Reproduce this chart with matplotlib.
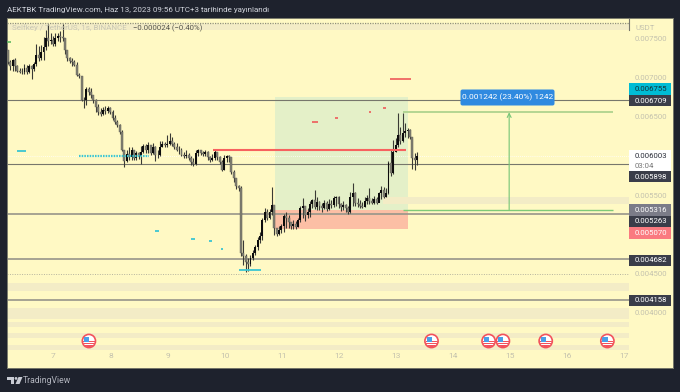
import numpy as np
import matplotlib
matplotlib.use("Agg")
import matplotlib.pyplot as plt
import matplotlib.patches as patches

plt.rcParams["font.family"] = ["Roboto", "DejaVu Sans"]

# ── Candles: 1h KEY/USDT, prices in millionths ──────────────────────────────
first_day = 6.2
closes = [
    7200, 7149, 7225, 7149, 7085, 7072, 7072, 7123, 7072, 7149,
    7111, 7174, 7289, 7251, 7327, 7391, 7506, 7468, 7481, 7430,
    7506, 7532, 7519, 7506, 7353, 7251, 7213, 7200, 7162, 7034,
    7021, 6715, 6715, 6855, 6817, 6779, 6715, 6626, 6562, 6536,
    6587, 6575, 6613, 6562, 6485, 6434, 6396, 6307, 6077, 5937,
    6026, 5988, 6077, 5975, 6039, 6000, 6051, 6128, 6077, 6141,
    6039, 6115, 6013, 6013, 6115, 6154, 6141, 6154, 6192, 6154,
    6115, 6077, 6077, 6013, 6000, 6013, 5975, 5924, 5898, 6039,
    6077, 6039, 6026, 6051, 5988, 5949, 5975, 6051, 5988, 5924,
    5822, 5975, 6000, 5988, 5796, 5720, 5618, 5592, 4763, 4724,
    4648, 4622, 4699, 4763, 4839, 4929, 4980, 5184, 5286, 5209,
    5286, 5375, 5082, 5005, 5056, 5107, 5235, 5209, 5158, 5107,
    5133, 5094, 5184, 5337, 5362, 5248, 5286, 5388, 5439, 5350,
    5414, 5362, 5337, 5401, 5324, 5388, 5375, 5465, 5477, 5388,
    5350, 5375, 5337, 5286, 5477, 5528, 5401, 5388, 5362, 5350,
    5426, 5465, 5426, 5401, 5452, 5401, 5528, 5567, 5477, 5528,
    5911, 5784, 6051, 6141, 6268, 6192, 6294, 6319, 6332, 6243, 5975, 5949, 6000,
]
highs = [
    7353, 7225, 7238, 7251, 7162, 7123, 7123, 7174, 7162, 7174,
    7162, 7200, 7430, 7404, 7417, 7519, 7608, 7685, 7570, 7532,
    7570, 7570, 7595, 7685, 7506, 7353, 7264, 7251, 7225, 7200,
    7060, 7021, 6753, 6881, 6881, 6868, 6753, 6728, 6664, 6613,
    6626, 6638, 6638, 6626, 6587, 6524, 6460, 6409, 6332, 6077,
    6077, 6115, 6115, 6064, 6064, 6051, 6128, 6154, 6154, 6179,
    6141, 6166, 6128, 6077, 6192, 6192, 6179, 6268, 6294, 6243,
    6179, 6166, 6128, 6103, 6051, 6077, 6039, 6000, 5975, 6077,
    6090, 6077, 6064, 6077, 6064, 6000, 6026, 6077, 6051, 6000,
    5949, 6013, 6013, 6013, 5988, 5822, 5720, 5630, 5618, 4929,
    4750, 4699, 4737, 4801, 4865, 4967, 5031, 5209, 5337, 5324,
    5324, 5605, 5375, 5082, 5107, 5133, 5260, 5286, 5248, 5158,
    5184, 5171, 5209, 5362, 5465, 5362, 5337, 5426, 5452, 5567,
    5477, 5426, 5401, 5439, 5426, 5452, 5439, 5490, 5490, 5490,
    5401, 5426, 5388, 5362, 5541, 5656, 5541, 5465, 5439, 5414,
    5477, 5503, 5592, 5465, 5490, 5477, 5541, 5618, 5605, 5592,
    5937, 6077, 6205, 6230, 6549, 6370, 6549, 6422, 6358, 6345, 6230, 6039, 6051,
]
lows = [
    7174, 7098, 7085, 7085, 7072, 7060, 7047, 7047, 7047, 7060,
    6983, 7085, 7149, 7213, 7225, 7225, 7353, 7404, 7430, 7404,
    7404, 7468, 7455, 7468, 7302, 7213, 7187, 7149, 7149, 7021,
    6996, 6702, 6613, 6651, 6779, 6741, 6677, 6562, 6524, 6511,
    6524, 6536, 6549, 6536, 6460, 6409, 6370, 6281, 6064, 5860,
    5924, 5949, 5949, 5949, 5949, 5962, 5898, 6039, 6039, 6039,
    6013, 6026, 5937, 5975, 6000, 6115, 6115, 6115, 6141, 6128,
    6090, 6064, 6026, 6000, 5975, 5975, 5949, 5886, 5873, 5886,
    6000, 6013, 6000, 6000, 5949, 5924, 5937, 5949, 5949, 5898,
    5809, 5822, 5924, 5924, 5771, 5669, 5579, 5554, 4724, 4610,
    4520, 4533, 4597, 4673, 4737, 4801, 4890, 4929, 5158, 5184,
    5197, 5248, 4992, 4980, 4992, 5018, 5031, 5082, 5082, 5069,
    5069, 5069, 5094, 5158, 5209, 5171, 5209, 5222, 5337, 5324,
    5312, 5312, 5286, 5324, 5299, 5312, 5337, 5350, 5362, 5337,
    5299, 5312, 5286, 5260, 5273, 5362, 5362, 5350, 5337, 5337,
    5350, 5388, 5388, 5388, 5388, 5388, 5414, 5452, 5465, 5477,
    5516, 5745, 5771, 6051, 6115, 6154, 6179, 6243, 6230, 6217, 5835, 5822, 5886,
]

# ── Levels and drawings ─────────────────────────────────────────────────────
thin_levels = [6709, 5898]
thick_levels = [5263, 4682, 4158]
last_price = 6003
dotted_level = 4500

pos_start, pos_end = 10.88, 13.21
pos_stop, pos_entry, pos_target = 5070, 5316, 6755

red_line = (9.79, 13.17, 6071)
measure_start, measure_end = 13.12, 16.80
measure_low, measure_high = 5316, 6558
measure_day = 14.98

# (start day, end day, price)
cyan_dashes = [(6.36, 6.52, 6064), (8.78, 8.85, 5043), (9.41, 9.48, 4941),
               (9.72, 9.78, 4916), (9.93, 9.97, 4820), (10.25, 10.63, 4546)]
cyan_dotted = (7.45, 8.67, 6000)
red_dashes = [(12.89, 13.26, 6983), (11.53, 11.63, 6434), (11.93, 11.98, 6489),
              (12.53, 12.56, 6566), (12.77, 12.82, 6617)]
green_dash = (6.19, 6.26, 7455)

full_bands = [(7685, 7608), (4384, 4282), (4061, 3921), (3882, 3819),
              (3742, 3678), (3589, 3525)]
short_band = (12.77, 5477, 5388)

flag_days = [7.62, 13.62, 14.62, 14.87, 15.62, 16.70]

day_ticks = [7, 8, 9, 10, 11, 12, 13, 14, 15, 16, 17]
price_ticks = [7500, 7000, 6500, 5500, 4500, 4000]

# price boxes: text, centre px, height px, face, text colour
price_boxes = [
    ("0.006755", 89.0, 12, "#00bcd4", "#14323a"),
    ("0.006709", 100.7, 11.5, "#3a3d49", "#ffffff"),
    ("0.005898", 176.5, 11.5, "#3a3d49", "#ffffff"),
    ("0.005316", 209.8, 11.5, "#7b7c88", "#ffffff"),
    ("0.005263", 221.3, 11.5, "#3a3d49", "#ffffff"),
    ("0.005070", 232.8, 11.5, "#fa7a80", "#ffffff"),
    ("0.004682", 260.3, 11.5, "#3a3d49", "#ffffff"),
    ("0.004158", 300.5, 11.5, "#3a3d49", "#ffffff"),
]

W, H = 680, 392
BG = "#1e222d"
PAPER = "#fff9c4"
BAND = "#f3ecc6"
L, R, T, B = 7.0, 672.5, 18.0, 368.0
SCALE_X = 629.0
TEXT_SIZE = 5.6


def py(v):
    return np.asarray(v) / 1e6


fig = plt.figure(figsize=(W / 100, H / 100), dpi=100, facecolor=BG)
ax = fig.add_axes([L / W, 1 - B / H, (R - L) / W, (B - T) / H], facecolor=PAPER)
ax.set_xlim(7 + (L - 53.5) / 57.1, 7 + (R - 53.5) / 57.1)
ax.set_ylim((7991 - 12.76 * B) / 1e6, (7991 - 12.76 * T) / 1e6)
end_day = 7 + (SCALE_X - 53.5) / 57.1
start_day = ax.get_xlim()[0]

for s in ax.spines.values():
    s.set_color("#77786a")
    s.set_linewidth(0.7)

ax.set_xticks(day_ticks)
ax.set_xticklabels([str(d) for d in day_ticks])
ax.set_yticks(py(price_ticks))
ax.set_yticklabels([f"{v / 1e6:.6f}" for v in price_ticks])
ax.yaxis.tick_right()
ax.tick_params(axis="x", length=0, pad=-10.5, labelsize=6.0, labelcolor="#c4c2ae")
ax.tick_params(axis="y", length=0, pad=-27.5, labelsize=TEXT_SIZE, labelcolor="#c4c2ae")

# bands
for top, bot in full_bands:
    ax.fill_between([start_day, end_day], py(bot), py(top), color=BAND, lw=0, zorder=1)
ax.fill_between([short_band[0], end_day], py(short_band[2]), py(short_band[1]),
                color=BAND, lw=0, zorder=1.6)
ax.hlines(py(7697), start_day, end_day, color="#8f8e7e", lw=0.9, ls=(0, (1, 1)), zorder=2)

# long position box
ax.fill_between([pos_start, pos_end], py(pos_entry), py(pos_target), color="#e4f0c8", lw=0, zorder=1.5)
ax.fill_between([pos_start, pos_end], py(pos_stop), py(pos_entry), color="#fcbfa5", lw=0, zorder=1.5)

# levels
ax.hlines(py(thin_levels), start_day, end_day, color="#77776c", lw=0.8, zorder=2)
ax.hlines(py(thick_levels), start_day, end_day, color="#97958a", lw=1.2, zorder=2)
ax.hlines(py(dotted_level), start_day, end_day, color="#b5b39e", lw=0.7, ls=(0, (1, 1.5)), zorder=2)
ax.hlines(py(last_price), start_day, end_day, color="#ffffff", lw=0.6, ls=(0, (1, 1.5)), zorder=2)

# candles
closes_a = py(closes)
opens_a = np.r_[py(7353), closes_a[:-1]]
days = first_day + np.arange(len(closes)) / 24
up = closes_a >= opens_a
ax.vlines(days, py(lows), py(highs), color="#3a3a35", lw=0.8, zorder=3)
ax.bar(days[~up], (opens_a - closes_a)[~up], width=0.034, bottom=closes_a[~up],
       color="#807f71", edgecolor="#62615a", lw=0.3, zorder=4)
ax.bar(days[up], (closes_a - opens_a)[up], width=0.034, bottom=opens_a[up],
       color="#0c0c0c", lw=0, zorder=4)

# small marks
for d0, d1, p in cyan_dashes:
    ax.hlines(py(p), d0, d1, color="#3cc6d2", lw=1.3, zorder=5)
ax.hlines(py(cyan_dotted[2]), cyan_dotted[0], cyan_dotted[1], color="#3cc6d2", lw=1.6,
          ls=(0, (0.7, 0.5)), zorder=5)
for d0, d1, p in red_dashes:
    ax.hlines(py(p), d0, d1, color="#ee5a5a", lw=1.2, zorder=5)
ax.hlines(py(green_dash[2]), green_dash[0], green_dash[1], color="#5fb760", lw=1.2, zorder=5)
ax.hlines(py(red_line[2]), red_line[0], red_line[1], color="#f7625f", lw=1.5, zorder=5)

# measure tool
ax.hlines(py(measure_high), measure_start, measure_end, color="#a8d08a", lw=1.2, zorder=5)
ax.hlines(py(measure_low), measure_start, measure_end, color="#7fca78", lw=1.0, zorder=5)
ax.annotate("", xy=(measure_day, py(measure_high)), xytext=(measure_day, py(measure_low)),
            arrowprops=dict(arrowstyle="->", color="#76c576", lw=0.8, mutation_scale=7,
                            shrinkA=0, shrinkB=0), zorder=5)

# overlay in pixels for labels, logo and flags
px = fig.add_axes([0, 0, 1, 1], facecolor="none")
px.set_xlim(0, W)
px.set_ylim(H, 0)
px.axis("off")


def box(x0, y0, x1, y1, face, **kw):
    px.add_patch(patches.Rectangle((x0, y0), x1 - x0, y1 - y0, fc=face, ec="none", **kw))


# scale separator and USDT
px.plot([SCALE_X, SCALE_X], [T, 30], color="#77776c", lw=0.8)
px.text(636, 27.5, "USDT", color="#c4c2ae", fontsize=TEXT_SIZE, va="center")

# white box for the last price
box(SCALE_X, 150, 670.5, 171, "#ffffff")
px.text(634.5, 156, f"{last_price / 1e6:.6f}", color="#2a2e39", fontsize=TEXT_SIZE, va="center")
px.text(634.5, 165.5, "03:04", color="#777", fontsize=TEXT_SIZE, va="center")

for label, yc, h, face, tc in price_boxes:
    box(SCALE_X, yc - h / 2, 670.5, yc + h / 2, face)
    px.text(634.5, yc, label, color=tc, fontsize=TEXT_SIZE, va="center")

# measure label
px.add_patch(patches.FancyBboxPatch((461, 90), 93, 15, boxstyle="round,pad=0.5,rounding_size=2",
                                    fc="#2f8ae0", ec="none"))
px.text(507.5, 97.5, "0.001242 (23.40%) 1242", color="#ffffff", fontsize=6.0,
        ha="center", va="center")

# header and legend
px.text(7, 9.5, "AEKTBK TradingView.com, Haz 13, 2023 09:56 UTC+3 tarihinde yayınlandı",
        color="#d1d4dc", fontsize=5.8, va="center")
px.text(12, 28, "Selfkey / TetherUS, 1s, BINANCE", color="#c9c7b3", fontsize=5.8, va="center")
px.text(133, 28, "−0.000024 (−0.40%)", color="#55554c", fontsize=5.6, va="center")

# footer logo
LOGO = "#c8cbd3"
box(7, 377, 14, 380, LOGO)
box(10.5, 380, 14, 384, LOGO)
px.add_patch(patches.Circle((16, 378.4), 1.4, fc=LOGO, ec="none"))
px.add_patch(patches.Polygon([(18.5, 377), (22.5, 377), (19.5, 384), (15.5, 384)], fc=LOGO, ec="none"))
px.text(22.5, 380.5, "TradingView", color="#b2b5be", fontsize=6.2, va="center")

# US event flags
for d in flag_days:
    cx = 53.5 + (d - 7) * 57.1
    cy = 341.0
    clip = patches.Circle((cx, cy), 6.2, transform=px.transData)
    px.add_patch(patches.Circle((cx, cy), 6.6, fc="#ffffff", ec="#f2525c", lw=1.2, zorder=6))
    for top, high in [(-0.3, 1.3), (2.0, 1.3), (4.3, 1.2)]:
        r = patches.Rectangle((cx - 6, cy + top), 12, high, fc="#f2525c", ec="none", zorder=7)
        px.add_patch(r)
        r.set_clip_path(clip)
    r = patches.Rectangle((cx - 5, cy - 4), 5.5, 4.5, fc="#4a9fe8", ec="none", zorder=8)
    px.add_patch(r)
    r.set_clip_path(clip)

fig.savefig("out.png", dpi=100, facecolor=BG)
